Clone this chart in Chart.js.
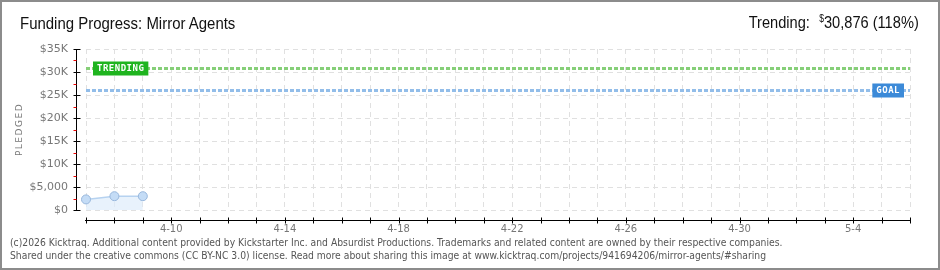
<!DOCTYPE html>
<html>
<head>
<meta charset="utf-8">
<script src="https://cdn.jsdelivr.net/npm/chart.js@4.4.1/dist/chart.umd.min.js"></script>
<style>
  html, body { margin: 0; padding: 0; background: #fff; }
  #wrap { position: relative; width: 940px; height: 270px; overflow: hidden; }
  #chart { position: absolute; left: 0; top: 0; }
  #frame { position: absolute; left: 0; top: 0; width: 940px; height: 270px; box-sizing: border-box; border: 2px solid #8c8c8c; pointer-events: none; }
  #title { position: absolute; left: 20px; top: 14px; font: 17px "Liberation Sans", sans-serif; color: #111; transform: scaleX(0.88); transform-origin: left top; white-space: nowrap; }
  #trend { position: absolute; right: 21px; top: 13px; font: 17px "Liberation Sans", sans-serif; color: #111; transform: scaleX(0.86); transform-origin: right top; white-space: nowrap; }
  #trend sup { font-size: 10px; vertical-align: 6px; margin-left: 6px; }
  #footer { position: absolute; left: 10px; top: 236px; font: 10px "DejaVu Sans", Verdana, sans-serif; color: #555; line-height: 13px; white-space: nowrap; transform: scaleX(0.924); transform-origin: left top; }
</style>
</head>
<body>
<div id="wrap">
  <canvas id="chart" width="940" height="245"></canvas>
  <div id="title">Funding Progress: Mirror Agents</div>
  <div id="trend"></div>
  <div id="footer">(c)2026 Kicktraq. Additional content provided by Kickstarter Inc. and Absurdist Productions. Trademarks and related content are owned by their respective companies.<br>Shared under the creative commons (CC BY-NC 3.0) license. Read more about sharing this image at www.kicktraq.com/projects/941694206/mirror-agents/#sharing</div>
  <div id="frame"></div>
</div>
<script>
// days on the x axis (4-7 .. 5-6)
const days = ['4-7','4-8','4-9','4-10','4-11','4-12','4-13','4-14','4-15','4-16',
  '4-17','4-18','4-19','4-20','4-21','4-22','4-23','4-24','4-25','4-26',
  '4-27','4-28','4-29','4-30','5-1','5-2','5-3','5-4','5-5','5-6']
// pledged totals for the days we have
const pledged = [2300, 3000, 3000]
const yTicks = [0, 5000, 10000, 15000, 20000, 25000, 30000, 35000]
const yTickLabels = ['$0', '$5,000', '$10K', '$15K', '$20K', '$25K', '$30K', '$35K']
const goal = 26000
const trending = 30876

document.getElementById('trend').innerHTML =
  'Trending: <sup>$</sup>' + trending.toLocaleString('en-US') + ' (' + Math.floor(trending / goal * 100) + '%)'

function tag(ctx, text, x, y, color) {
  ctx.font = 'bold 9px "DejaVu Sans Mono", monospace'
  ctx.letterSpacing = '0.5px'
  const w = ctx.measureText(text).width + 8
  ctx.fillStyle = color
  ctx.fillRect(x, y - 7, w, 14)
  ctx.fillStyle = '#fff'
  ctx.textAlign = 'left'
  ctx.textBaseline = 'middle'
  ctx.fillText(text, x + 4, y + 0.5)
  return w
}

// reference lines for goal and trending
const refLines = {
  id: 'refLines',
  beforeDatasetsDraw(chart) {
    const { ctx, chartArea: a, scales: { y } } = chart
    ctx.save()
    ctx.lineWidth = 3
    ctx.setLineDash([4, 2])
    const yt = Math.round(y.getPixelForValue(trending)) + 0.5
    const yg = Math.round(y.getPixelForValue(goal)) + 0.5
    ctx.strokeStyle = '#86cf78'
    ctx.beginPath(); ctx.moveTo(a.left, yt); ctx.lineTo(a.right, yt); ctx.stroke()
    ctx.strokeStyle = '#92bde9'
    ctx.beginPath(); ctx.moveTo(a.left, yg); ctx.lineTo(a.right, yg); ctx.stroke()
    ctx.setLineDash([])
    tag(ctx, 'TRENDING', a.left + 7, yt, '#1fb41f')
    ctx.font = 'bold 9px "DejaVu Sans Mono", monospace'
    ctx.letterSpacing = '0.5px'
    const gw = ctx.measureText('GOAL').width + 8
    tag(ctx, 'GOAL', a.right - 6 - gw, yg, '#3c8ad8')
    ctx.restore()
  }
}

// axis lines sit a little outside the plot area
const offsetAxes = {
  id: 'offsetAxes',
  afterDraw(chart) {
    const { ctx, chartArea: a, scales: { x, y } } = chart
    ctx.save()
    ctx.strokeStyle = '#000'
    ctx.lineWidth = 1
    const ax = a.left - 9.5
    ctx.beginPath(); ctx.moveTo(ax, a.top); ctx.lineTo(ax, a.bottom + 1); ctx.stroke()
    yTicks.forEach(v => {
      const py = Math.round(y.getPixelForValue(v)) + 0.5
      ctx.beginPath(); ctx.moveTo(ax - 3, py); ctx.lineTo(ax + 4, py); ctx.stroke()
    })
    ctx.strokeStyle = '#e00'
    yTicks.slice(1).forEach(v => {
      const py = Math.round(y.getPixelForValue(v - 2500)) + 0.5
      ctx.beginPath(); ctx.moveTo(ax - 3, py); ctx.lineTo(ax, py); ctx.stroke()
    })
    ctx.strokeStyle = '#000'
    const ay = a.bottom + 10.5
    ctx.beginPath(); ctx.moveTo(a.left - 1, ay); ctx.lineTo(a.right + 1, ay); ctx.stroke()
    days.forEach((d, i) => {
      const px = Math.round(x.getPixelForValue(i)) + 0.5
      ctx.beginPath(); ctx.moveTo(px, ay - 3); ctx.lineTo(px, ay + 3); ctx.stroke()
    })
    ctx.translate(20, (a.top + a.bottom) / 2)
    ctx.rotate(-Math.PI / 2)
    ctx.fillStyle = '#777'
    ctx.font = '9px "DejaVu Sans", sans-serif'
    ctx.letterSpacing = '1.5px'
    ctx.textAlign = 'center'
    ctx.textBaseline = 'middle'
    ctx.fillText('PLEDGED', 0, 0)
    ctx.restore()
  }
}

new Chart(document.getElementById('chart'), {
  type: 'line',
  data: {
    labels: days,
    datasets: [{
      data: pledged,
      borderColor: '#b6d2f0',
      borderWidth: 1.5,
      backgroundColor: 'rgba(222,236,251,0.7)',
      fill: 'origin',
      tension: 0,
      pointRadius: 4.5,
      pointBackgroundColor: '#c4dcf6',
      pointBorderColor: '#98b7dc',
      pointBorderWidth: 1
    }]
  },
  options: {
    responsive: false,
    animation: false,
    layout: { padding: { left: 10, right: 30, top: 49, bottom: 0 } },
    plugins: { legend: { display: false }, tooltip: { enabled: false } },
    scales: {
      x: {
        type: 'category',
        offset: false,
        afterFit: s => { s.height = 35 },
        grid: { color: '#e0e0e0', drawTicks: false, tickLength: 0 },
        border: { display: false, dash: [5, 4] },
        ticks: {
          autoSkip: false, maxRotation: 0, padding: 13,
          color: '#777', font: { family: '"DejaVu Sans", sans-serif', size: 10 },
          callback: (v, i) => (i - 3) % 4 === 0 ? days[i] : ''
        }
      },
      y: {
        min: 0, max: 35000,
        afterFit: s => { s.width = 76 },
        afterBuildTicks: s => { s.ticks = yTicks.map(v => ({ value: v })) },
        grid: { color: '#e0e0e0', drawTicks: false, tickLength: 0 },
        border: { display: false, dash: [5, 4] },
        ticks: {
          padding: 18, color: '#777',
          font: { family: '"DejaVu Sans", sans-serif', size: 11 },
          callback: v => yTickLabels[yTicks.indexOf(v)]
        }
      }
    }
  },
  plugins: [refLines, offsetAxes]
})
</script>
</body>
</html>
